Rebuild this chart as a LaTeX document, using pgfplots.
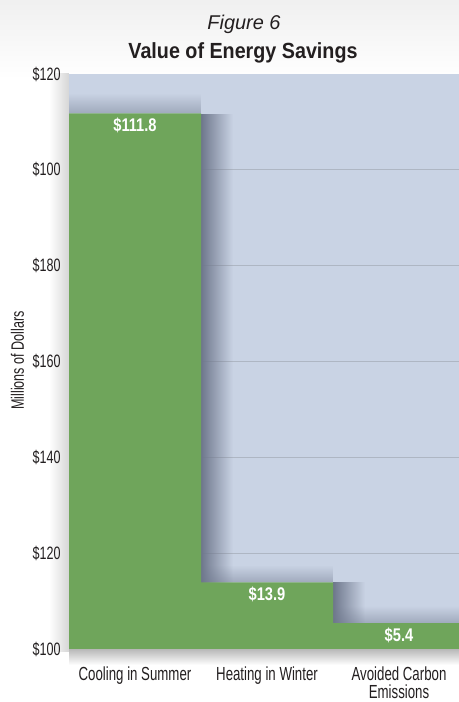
\documentclass[border=0pt]{standalone}
\usepackage{fontspec}
\setmainfont{Liberation Sans}[FakeStretch=0.7]
\newfontfamily\titlefont{Liberation Sans}[FakeStretch=0.9]
\newfontfamily\valfont{Liberation Sans}[FakeStretch=0.8]
\newfontfamily\figfont{Liberation Sans}
\usepackage{pgfplots}
\pgfplotsset{compat=1.18}
\usetikzlibrary{fadings}
\definecolor{plotbg}{HTML}{C9D3E4}
\definecolor{gridc}{HTML}{AEB6C3}
\definecolor{barg}{HTML}{6FA55B}
\definecolor{shd}{HTML}{6E778C}
\definecolor{txt}{HTML}{231F20}

\begin{document}
\begin{tikzpicture}
\useasboundingbox (-69bp,-53bp) rectangle (390bp,649bp);
\fill[white] (-69bp,-53bp) rectangle (390bp,649bp);
\shade[top color=black!6, bottom color=white] (-69bp,570bp) rectangle (390bp,649bp);
% soft shadows round the plot area
\shade[left color=white, right color=black!16] (-20bp,-2bp) rectangle (0bp,575bp);
\shade[top color=black!28, bottom color=white] (0bp,-16bp) rectangle (390bp,0bp);

% titles
\node[anchor=base, text=txt, inner sep=0pt] at (175bp,619.7bp)
  {\fontsize{20}{24}\selectfont\figfont\itshape Figure 6};
\node[anchor=base, text=txt, inner sep=0pt] at (174bp,590.7bp)
  {\fontsize{22}{26}\selectfont\titlefont\bfseries Value of Energy Savings};
\node[anchor=base, rotate=90, text=txt, inner sep=0pt] at (-45bp,288.5bp)
  {\fontsize{18}{20}\selectfont Millions of Dollars};

\begin{axis}[
    at={(0,0)}, anchor=south west,
    width=390bp, height=575bp, scale only axis,
    xmin=-0.5, xmax=2.4545, ymin=0, ymax=120,
    axis background/.style={fill=plotbg},
    axis line style={draw=none},
    major tick length=0pt,
    ytick={20,40,60,80,100},
    yticklabels={\$120,\$140,\$160,\$180,\$100},
    extra y ticks={0,120},
    extra y tick labels={\$100,\$120},
    extra y tick style={grid=none},
    ymajorgrids, grid style={gridc, line width=1.1bp},
    yticklabel style={font=\fontsize{18}{20}\selectfont, text=txt, inner sep=0pt, anchor=east, xshift=-8.3bp},
    xtick={0,1,2},
    xticklabels={Cooling in Summer, Heating in Winter, {Avoided Carbon\\Emissions}},
    xticklabel style={font=\fontsize{19}{17.8}\selectfont, text=txt, inner sep=0pt, align=center, anchor=north, yshift=-17.8bp},
    ybar, bar width=1, bar shift=0pt,
    nodes near coords, point meta=explicit symbolic,
    every node near coord/.append style={font=\fontsize{18.4}{20}\selectfont\valfont\bfseries, text=white, anchor=base, inner sep=0pt, yshift=-18bp},
]
  % cast shadows, fading into the background
  \fill[shd, opacity=0.45, path fading=north] (axis cs:-0.5,111.8) rectangle (axis cs:0.5,116);
  \fill[shd, opacity=0.45, path fading=north] (axis cs:0.5,13.9) rectangle (axis cs:1.5,17.5);
  \fill[shd, opacity=0.45, path fading=north] (axis cs:1.5,5.4) rectangle (axis cs:2.5,9);
  \fill[shd, path fading=east] (axis cs:0.5,0) rectangle (axis cs:0.74,111.8);
  \fill[shd, path fading=east] (axis cs:1.5,0) rectangle (axis cs:1.74,13.9);

  \addplot[fill=barg, draw=none] coordinates {(0,111.8) [\$111.8] (1,13.9) [\$13.9] (2,5.4) [\$5.4]};
\end{axis}
\end{tikzpicture}
\end{document}
